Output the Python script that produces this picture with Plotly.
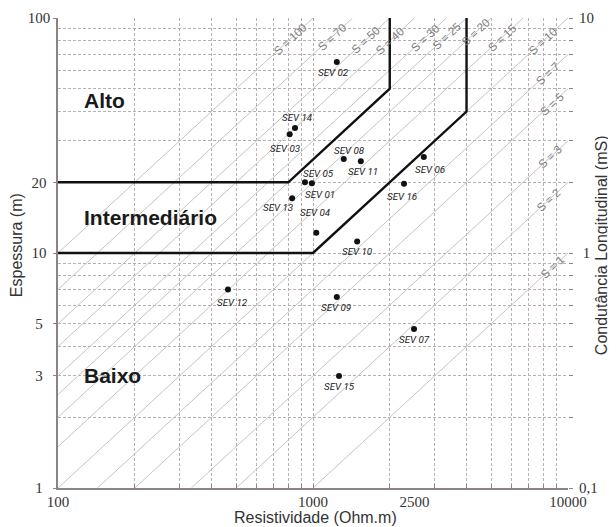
import math
import plotly.graph_objects as go

# ---------------- data ----------------
sev_names = ["SEV 01", "SEV 02", "SEV 03", "SEV 04", "SEV 05", "SEV 06", "SEV 07", "SEV 08",
             "SEV 09", "SEV 10", "SEV 11", "SEV 12", "SEV 13", "SEV 14", "SEV 15", "SEV 16"]
sev_rho = [990, 1240, 810, 1030, 930, 2720, 2490, 1320, 1240, 1490, 1540, 464, 828, 850, 1265, 2275]
sev_h = [19.8, 65, 32, 12.2, 20, 25.6, 4.75, 25.1, 6.5, 11.2, 24.6, 7.0, 17.1, 34, 3.0, 19.7]

# conductance lines S (mS): h = S * rho / 1000
s_values = [1, 2, 3, 5, 7, 10, 15, 20, 25, 30, 40, 50, 70, 100]
s_label_rho = [8700, 8400, 8500, 8650, 8280, 7980, 5500, 4350, 3350, 2750, 2000, 1610, 1190, 815]

# class boundaries (rho, h)
low_rho = [100, 1000, 4000, 4000]
low_h = [10, 10, 40, 100]
high_rho = [100, 800, 2000, 2000]
high_h = [20, 20, 50, 100]

classes = ["Alto", "Intermediário", "Baixo"]
class_h = [44.4, 14.1, 3.0]

x_ticks = [100, 1000, 2500, 10000]
y_ticks = [1, 3, 5, 10, 20, 100]
y_text = ["1\u2007", "3\u2007", "5\u2007", "10\u2008", "20\u2008", "100"]
y2_ticks = [0.1, 1, 10]
y2_text = ["0,1", "\u20081", "10"]

# ---------------- styling helpers ----------------
label_offsets = {  # pixel offset of SEV label centre from its dot (dx, dy down)
    "SEV 01": (8, 11), "SEV 02": (-3, 11), "SEV 03": (-4, 14), "SEV 04": (-1, -20),
    "SEV 05": (14, -9), "SEV 06": (6, 12), "SEV 07": (0, 11), "SEV 08": (6, -9),
    "SEV 09": (-1, 11), "SEV 10": (0, 10), "SEV 11": (2, 10), "SEV 12": (5, 13),
    "SEV 13": (-14, 9), "SEV 14": (2, -11), "SEV 15": (0, 11), "SEV 16": (-2, 13),
}

def decade_grid(lo_exp, hi_exp):
    vals = []
    for e in range(lo_exp, hi_exp):
        for m in range(1, 10):
            vals.append(m * 10 ** e)
    vals.append(10 ** hi_exp)
    return vals

grid_x = decade_grid(2, 4)
grid_y = decade_grid(0, 2)
grid_y2 = [round(v / 10, 3) for v in grid_y]

L = math.log10
GRID = "#b9afb1"
AXIS = "#8c8383"
DIAG = "#c4c4c4"
TICKFONT = dict(family="Liberation Serif, Times New Roman, serif", size=15, color="#333")
TITLEFONT = dict(family="Liberation Sans, Arial, sans-serif", size=16, color="#333")

fig = go.Figure()

# diagonal S lines
for S in s_values:
    r0 = max(100, 1000 / S)
    r1 = min(10000, 100000 / S)
    fig.add_trace(go.Scatter(x=[r0, r1], y=[S * r0 / 1000, S * r1 / 1000], mode="lines",
                             line=dict(color=DIAG, width=1), hoverinfo="skip", showlegend=False))

# boundaries
for bx, by in [(low_rho, low_h), (high_rho, high_h)]:
    fig.add_trace(go.Scatter(x=bx, y=by, mode="lines", line=dict(color="#111", width=2.4),
                             hoverinfo="skip", showlegend=False))

# SEV points
fig.add_trace(go.Scatter(x=sev_rho, y=sev_h, mode="markers", xaxis="x2",
                         marker=dict(color="#111", size=6), text=sev_names, showlegend=False))
# anchor for right-hand conductance axis (no visible marks)
fig.add_trace(go.Scatter(x=[], y=[], yaxis="y2", mode="markers", showlegend=False, hoverinfo="skip"))

annotations = []
for name, r, h in zip(sev_names, sev_rho, sev_h):
    dx, dy = label_offsets[name]
    annotations.append(dict(x=L(r), y=L(h), xref="x", yref="y", text=name, showarrow=False,
                            xshift=dx, yshift=-dy,
                            font=dict(family="Roboto, DejaVu Sans Condensed, sans-serif",
                                      size=9.8, color="#1a1a1a", style="italic")))

for S, r in zip(s_values, s_label_rho):
    annotations.append(dict(x=L(r), y=L(S * r / 1000), xref="x", yref="y", text=f"S = {S}",
                            showarrow=False, textangle=-42.7,
                            font=dict(family="Liberation Sans, Arial, sans-serif", size=11.5, color="#7c7c7c")))

for c, h in zip(classes, class_h):
    annotations.append(dict(x=L(124), y=L(h), xref="x", yref="y", text=f"<b>{c}</b>", showarrow=False,
                            xanchor="left", yanchor="middle",
                            font=dict(family="Liberation Sans, Arial, sans-serif", size=21, color="#1a1a1a")))

annotations += [
    dict(x=0.504, y=-0.062, xref="paper", yref="paper", text="Resistividade (Ohm.m)", showarrow=False,
         xanchor="center", yanchor="middle", font=TITLEFONT),
    dict(x=-0.082, y=0.517, xref="paper", yref="paper", text="Espessura (m)", showarrow=False,
         textangle=-90, xanchor="center", yanchor="middle", font=TITLEFONT),
    dict(x=1.065, y=0.517, xref="paper", yref="paper", text="Condutância Longitudinal (mS)", showarrow=False,
         textangle=-90, xanchor="center", yanchor="middle", font=TITLEFONT),
]

# the page body has an 8px default margin, so the figure is offset by 8px
fig.update_layout(
    width=608, height=519,
    margin=dict(l=50, r=48, t=10, b=39, autoexpand=False),
    paper_bgcolor="white", plot_bgcolor="white",
    showlegend=False,
    xaxis=dict(type="log", range=[2, 4], tickmode="array", tickvals=grid_x,
               showticklabels=False, showgrid=True, gridcolor=GRID, griddash="3px,2px", gridwidth=1,
               ticks="inside", ticklen=4, tickcolor=AXIS,
               showline=True, linecolor=AXIS, linewidth=1.5, zeroline=False),
    xaxis2=dict(type="log", range=[2, 4], overlaying="x", anchor="y", side="bottom",
                tickmode="array", tickvals=x_ticks, ticktext=[str(v) for v in x_ticks],
                ticks="", ticklabelstandoff=3,
                showgrid=False, showline=False, zeroline=False, tickfont=TICKFONT),
    yaxis=dict(type="log", range=[0, 2], tickmode="array", tickvals=y_ticks, ticktext=y_text,
               showgrid=True, gridcolor=GRID, griddash="3px,2px", gridwidth=1,
               minor=dict(tickmode="array", tickvals=grid_y, showgrid=True, gridcolor=GRID,
                          griddash="3px,2px", gridwidth=1, ticks=""),
               ticks="outside", ticklen=3, tickcolor=AXIS, tickfont=TICKFONT,
               showline=True, linecolor=AXIS, linewidth=1.5, zeroline=False),
    yaxis2=dict(type="log", range=[-1, 1], overlaying="y", side="right", anchor="x",
                tickmode="array", tickvals=grid_y2,
                ticktext=[y2_text[y2_ticks.index(v)] if v in y2_ticks else "" for v in grid_y2],
                ticks="outside", ticklen=4, tickcolor=AXIS, tickfont=TICKFONT,
                ticklabelstandoff=3,
                showgrid=False, showline=False, zeroline=False),
    annotations=annotations,
)

fig.write_html("out.html")
